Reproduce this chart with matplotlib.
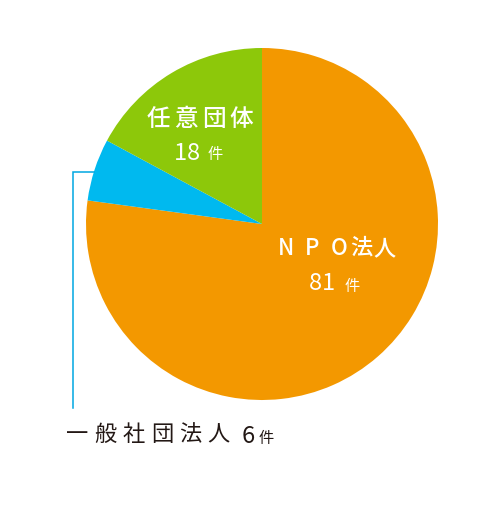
import matplotlib.pyplot as plt

plt.rcParams['font.family'] = ['Noto Sans CJK JP', 'DejaVu Sans']

categories = ["NPO法人", "一般社団法人", "任意団体"]
counts = [81, 6, 18]
colors = ["#F39800", "#00B9EF", "#8DC80A"]
unit = "件"

W, H = 500, 517
fig = plt.figure(figsize=(W / 100, H / 100), dpi=100)
ax = fig.add_axes([0, 0, 1, 1])

cx, cy, r = 262, H - 224, 176
ax.pie(counts, colors=colors, startangle=90, counterclock=False,
       center=(cx, cy), radius=r, frame=True,
       wedgeprops=dict(linewidth=0))
ax.set_xlim(0, W)
ax.set_ylim(0, H)
ax.set_aspect("equal")
ax.axis("off")

rend = fig.canvas.get_renderer()


def tracked(x, y, parts, ha="left", **kw):
    # parts: list of (text, extra spacing in px after each char)
    pieces = []
    for s, sp in parts:
        for ch in s:
            t = ax.text(0, H - y, ch, va="baseline", ha="left", **kw)
            w = t.get_window_extent(rend).width
            pieces.append((t, w, sp))
    total = sum(w + sp for _, w, sp in pieces) - pieces[-1][2]
    pos = x - total / 2 if ha == "center" else x
    for t, w, sp in pieces:
        t.set_x(pos)
        pos += w + sp


# NPO法人 81件
tracked(337, 255, [("NP", 11), ("O", 3), ("法人", 1)], ha="center",
        color="white", fontsize=16, fontweight="medium")
tracked(309, 290, [(str(counts[0]), 0)], color="white", fontsize=17)
tracked(345, 291, [(unit, 0)], color="white", fontsize=11)

# 任意団体 18件
tracked(200, 126, [(categories[2], 4)], ha="center",
        color="white", fontsize=17, fontweight="medium")
tracked(174, 160, [(str(counts[2]), 0)], color="white", fontsize=17)
tracked(208, 159, [(unit, 0)], color="white", fontsize=11)

# leader line + 一般社団法人 6件
ax.plot([94, 73, 73], [H - 172, H - 172, H - 408], color="#00A7E1", lw=1.1,
        solid_joinstyle="miter")
tracked(66, 441, [(categories[1], 6)], color="#231815", fontsize=16)
tracked(242, 443, [(str(counts[1]), 0)], color="#231815", fontsize=17)
tracked(259, 443, [(unit, 0)], color="#231815", fontsize=11)

fig.savefig("out.png", dpi=100)
